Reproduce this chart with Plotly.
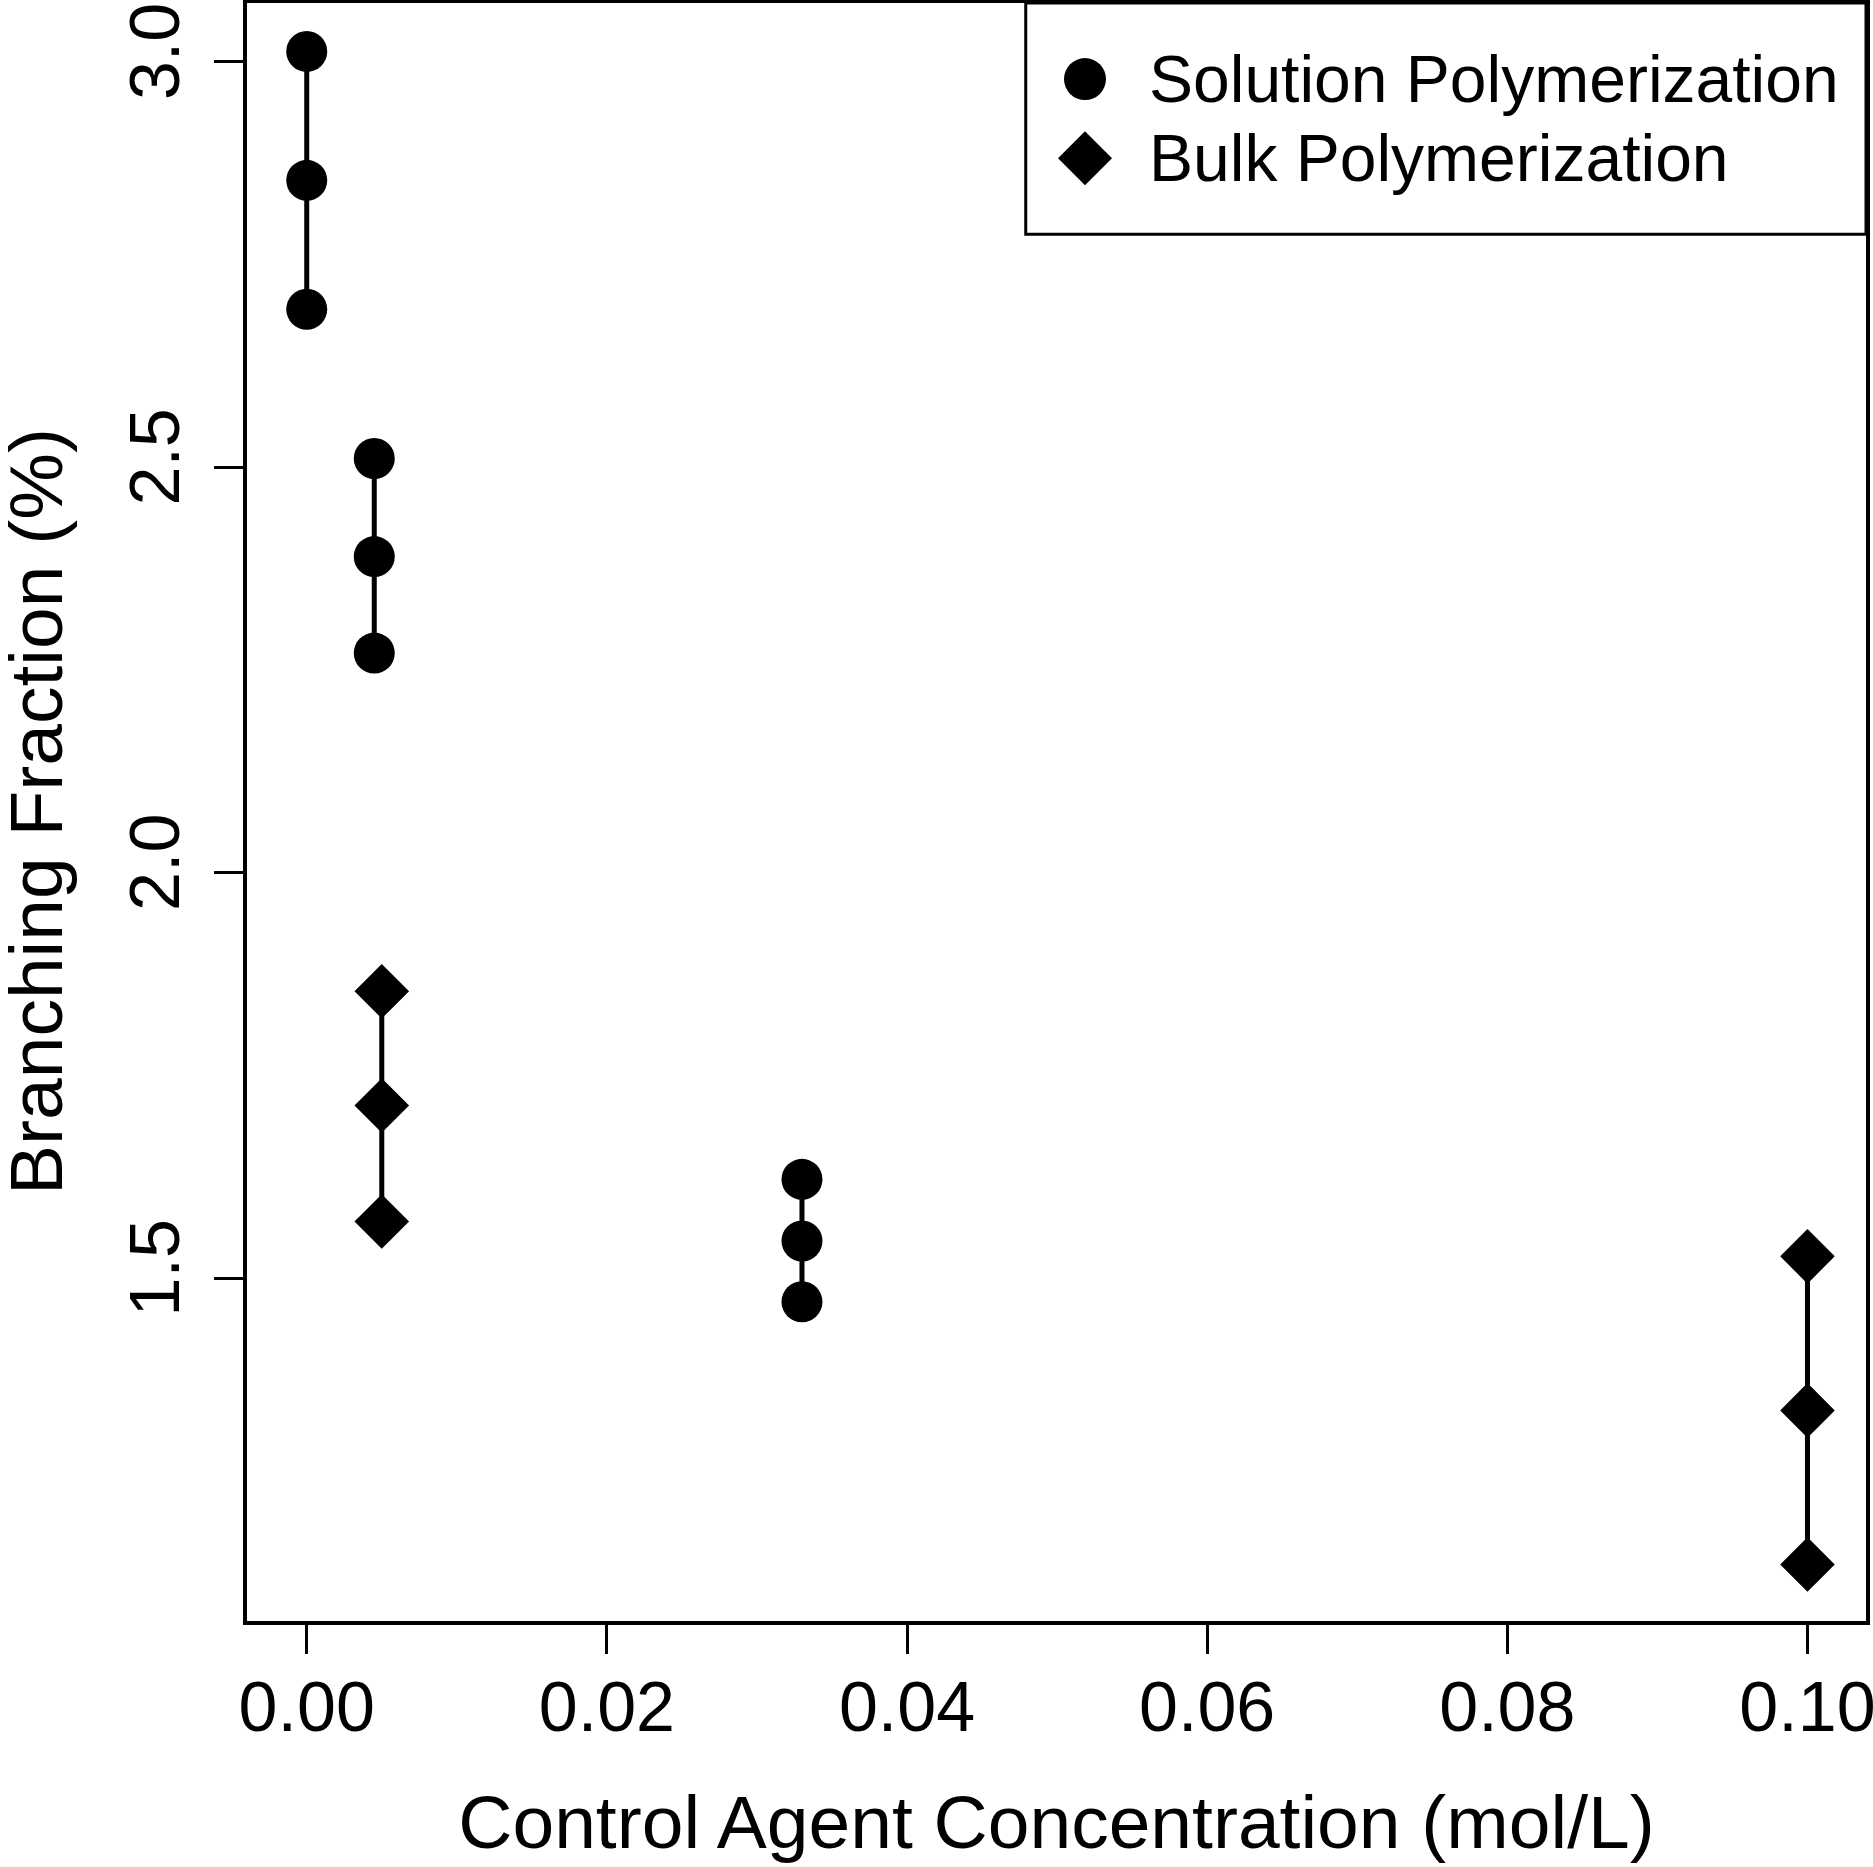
import plotly.graph_objects as go

# branching fraction: mean and mean +/- sd per control agent concentration
sol_x = [0.0, 0.0045, 0.033]
sol_hi = [3.013, 2.511, 1.622]
sol_mid = [2.854, 2.390, 1.546]
sol_lo = [2.695, 2.271, 1.471]

bulk_x = [0.005, 0.1]
bulk_hi = [1.854, 1.527]
bulk_mid = [1.713, 1.337]
bulk_lo = [1.570, 1.147]

x_ticks = [0.0, 0.02, 0.04, 0.06, 0.08, 0.10]
y_ticks = [1.5, 2.0, 2.5, 3.0]

FONT = "Liberation Sans, Arial, Helvetica, sans-serif"


def stack(xs, his, mids, los):
    # three points per x, joined by a vertical segment
    px, py = [], []
    for x, h, m, l in zip(xs, his, mids, los):
        px += [x, x, x, None]
        py += [h, m, l, None]
    return px, py


fig = go.Figure()

sx, sy = stack(sol_x, sol_hi, sol_mid, sol_lo)
fig.add_trace(go.Scatter(x=sx, y=sy, mode="lines+markers", name="Solution Polymerization",
                         line=dict(color="black", width=5),
                         marker=dict(symbol="circle", size=41, color="black"),
                         showlegend=False))

bx, by = stack(bulk_x, bulk_hi, bulk_mid, bulk_lo)
fig.add_trace(go.Scatter(x=bx, y=by, mode="lines+markers", name="Bulk Polymerization",
                         line=dict(color="black", width=5),
                         marker=dict(symbol="diamond", size=42, color="black"),
                         showlegend=False))

# legend box drawn by hand so the keys keep the full marker size
fig.add_shape(type="rect", xref="paper", yref="paper", x0=0.481, x1=1.0, y0=0.857, y1=1.0,
              line=dict(color="black", width=3), fillcolor="white", layer="below")
fig.add_shape(type="circle", xref="paper", yref="paper", xsizemode="pixel", ysizemode="pixel",
              xanchor=0.5176, yanchor=0.953, x0=-21, x1=21, y0=-21, y1=21,
              fillcolor="black", line=dict(width=0))
fig.add_shape(type="path", xref="paper", yref="paper", xsizemode="pixel", ysizemode="pixel",
              xanchor=0.5176, yanchor=0.904, path="M 27,0 L 0,27 L -27,0 L 0,-27 Z",
              fillcolor="black", line=dict(width=0))
for txt, yy in [("Solution Polymerization", 0.953), ("Bulk Polymerization", 0.904)]:
    fig.add_annotation(text=txt, xref="paper", yref="paper", x=0.556, y=yy,
                       xanchor="left", yanchor="middle", showarrow=False,
                       font=dict(family=FONT, size=66, color="black"))

# y axis title as an annotation so it can sit closer to the page edge
fig.add_annotation(text="Branching Fraction (%)", xref="paper", yref="paper",
                   x=-0.1303, y=0.5, xanchor="center", yanchor="middle",
                   textangle=-90, showarrow=False,
                   font=dict(family=FONT, size=75, color="black"))

axis_common = dict(showline=True, mirror=True, linecolor="black", linewidth=3.5,
                   ticks="outside", ticklen=29, tickwidth=3, tickcolor="black",
                   showgrid=False, zeroline=False, ticklabeloverflow="allow",
                   tickfont=dict(family=FONT, size=70, color="black"))

fig.update_xaxes(range=[-0.00398, 0.1039], tickvals=x_ticks, tickformat=".2f",
                 ticklabelstandoff=-7,
                 title=dict(text="Control Agent Concentration (mol/L)", standoff=52,
                            font=dict(family=FONT, size=75, color="black")),
                 **axis_common)
fig.update_yaxes(range=[1.0773, 3.0727], tickvals=y_ticks, tickformat=".1f", tickangle=-90,
                 ticklabelstandoff=7, **axis_common)

fig.update_layout(width=1873, height=1867,
                  margin=dict(l=247, r=7, t=3, b=246, autoexpand=False),
                  plot_bgcolor="white", paper_bgcolor="white",
                  showlegend=False)

fig.write_html("out.html", config={"displayModeBar": False},
               post_script="document.body.style.margin='0';")
